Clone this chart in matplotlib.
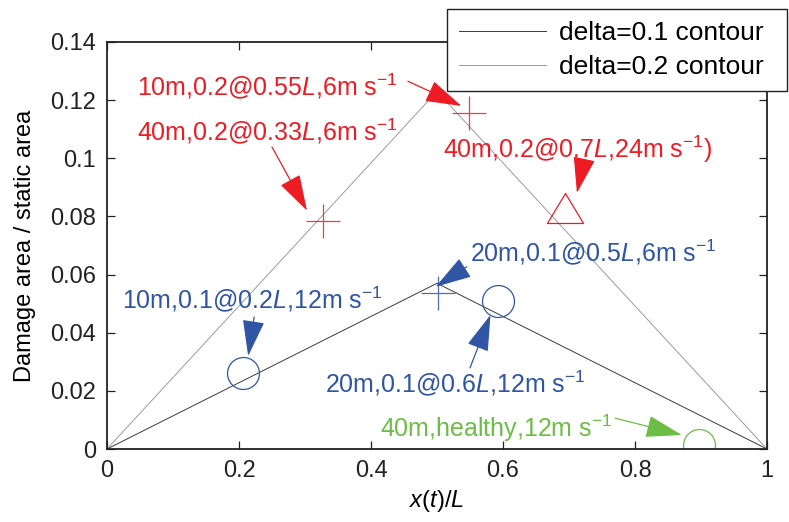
import matplotlib
matplotlib.use("Agg")
import matplotlib.pyplot as plt
from matplotlib.path import Path

plt.rcParams['font.family'] = ['Liberation Sans', 'DejaVu Sans']
plt.rcParams['mathtext.fontset'] = 'custom'
plt.rcParams['mathtext.rm'] = 'Liberation Sans'
plt.rcParams['mathtext.it'] = 'Liberation Sans:italic'

# ---- data ----
contour_x = [0, 0.5, 1]
delta01 = [0, 0.057, 0]
delta02 = [0, 0.123, 0]

red_plus_x = [0.549, 0.327]
red_plus_y = [0.1155, 0.0784]
red_tri_x = [0.694]
red_tri_y = [0.0829]
blue_plus_x = [0.502]
blue_plus_y = [0.0536]
blue_circ_x = [0.593, 0.206]
blue_circ_y = [0.0509, 0.0262]
green_circ_x = [0.897]
green_circ_y = [0.0014]

xticks = [0, 0.2, 0.4, 0.6, 0.8, 1]
xtick_labels = ['0', '0.2', '0.4', '0.6', '0.8', '1']
yticks = [0, 0.02, 0.04, 0.06, 0.08, 0.1, 0.12, 0.14]
ytick_labels = ['0', '0.02', '0.04', '0.06', '0.08', '0.1', '0.12', '0.14']

RED = '#ed1c24'
BLUE = '#2f55a4'
GREEN = '#6cbd45'

# label text, text anchor (left, baseline), arrow tail, arrow tip, colour
labels = [
    ("10m,0.2@0.55$L$,6m s$^{-1}$", (0.0455, 0.1218), (0.456, 0.1265), (0.537, 0.1180), RED),
    ("40m,0.2@0.33$L$,6m s$^{-1}$", (0.0455, 0.1063), (0.250, 0.1039), (0.303, 0.0820), RED),
    ("40m,0.2@0.7$L$,24m s$^{-1}$)", (0.509, 0.1001), (0.721, 0.0977), (0.712, 0.0881), RED),
    ("20m,0.1@0.5$L$,6m s$^{-1}$", (0.550, 0.0647), (0.545, 0.0627), (0.498, 0.0558), BLUE),
    ("10m,0.1@0.2$L$,12m s$^{-1}$", (0.0227, 0.0485), (0.223, 0.0454), (0.2139, 0.0320), BLUE),
    ("20m,0.1@0.6$L$,12m s$^{-1}$", (0.330, 0.0196), (0.550, 0.0279), (0.581, 0.0461), BLUE),
    ("40m,healthy,12m s$^{-1}$", (0.414, 0.0041), (0.770, 0.0106), (0.871, 0.0048), GREEN),
]

fig = plt.figure(figsize=(7.89, 5.22), dpi=100)
ax = fig.add_axes([107/789, 1 - 449/522, 660/789, 407/522])

l1, = ax.plot(contour_x, delta01, color='#3a3a3a', lw=0.7)
l2, = ax.plot(contour_x, delta02, color='#9a9a9a', lw=0.7)

tri = Path([(0, 0.83), (-1, -0.83), (1, -0.83), (0, 0.83)],
           [Path.MOVETO, Path.LINETO, Path.LINETO, Path.CLOSEPOLY])

ax.plot(red_plus_x, red_plus_y, ls='none', marker='+', ms=25, mew=0.9, color=RED, alpha=0.85)
ax.plot(red_tri_x, red_tri_y, ls='none', marker=tri, ms=26, mew=0.9, mfc='none', mec=RED)
ax.plot(blue_plus_x, blue_plus_y, ls='none', marker='+', ms=25, mew=0.9, color=BLUE, alpha=0.85)
ax.plot(blue_circ_x, blue_circ_y, ls='none', marker='o', ms=23, mew=0.9, mfc='none', mec=BLUE)
ax.plot(green_circ_x, green_circ_y, ls='none', marker='o', ms=23, mew=0.9, mfc='none', mec=GREEN)

for text, tpos, tail, tip, col in labels:
    ax.text(tpos[0], tpos[1], text, color=col, fontsize=18, ha='left', va='baseline',
            zorder=5)
    ax.annotate('', xy=tip, xytext=tail,
                arrowprops=dict(arrowstyle='-|>,head_length=1.15,head_width=0.35',
                                color=col, lw=0.9, shrinkA=0, shrinkB=0,
                                mutation_scale=20))

ax.set_xlim(0, 1)
ax.set_ylim(0, 0.14)
ax.set_xticks(xticks)
ax.set_xticklabels(xtick_labels)
ax.set_yticks(yticks)
ax.set_yticklabels(ytick_labels)
ax.tick_params(direction='in', length=6, width=0.9, top=True, right=True,
               labelsize=17, pad=8, colors='#222222')
for s in ax.spines.values():
    s.set_linewidth(1.3)
    s.set_color('#222222')

ax.set_xlabel('$x$($t$)/$L$', fontsize=17, labelpad=4)
ax.set_ylabel('Damage area / static area', fontsize=17, labelpad=10)

leg = fig.legend([l1, l2], ['delta=0.1 contour', 'delta=0.2 contour'],
                 loc='upper left', bbox_to_anchor=(447/789, 1 - 92/522, 340/789, 83/522),
                 bbox_transform=fig.transFigure, mode='expand', borderaxespad=0,
                 fontsize=19, handlelength=3.3, handletextpad=0.5,
                 labelspacing=0.4, borderpad=0.45, fancybox=False,
                 framealpha=1, edgecolor='#222222')
leg.get_frame().set_linewidth(1.0)

fig.savefig('out.png', dpi=100)
